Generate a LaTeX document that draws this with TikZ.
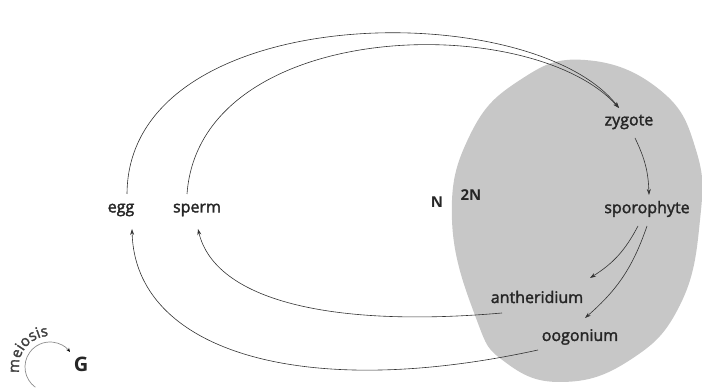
\documentclass[tikz,border=0pt]{standalone}
\usepackage{fontspec}
\setmainfont{Open Sans}
\newfontfamily\lblfont{Open Sans}[FakeBold=2]
\usetikzlibrary{arrows.meta,decorations.text}
\begin{document}
\begin{tikzpicture}[x=1pt,y=1pt,
  lbl/.style={font=\lblfont\fontsize{16}{16}\selectfont, inner sep=1pt, text=black!85},
  bl/.style={font=\fontsize{15}{15}\selectfont\bfseries, inner sep=1pt, text=black!85},
  arr/.style={draw=black!80, line width=0.6pt, -{Stealth[length=6pt,width=4pt]}}]
\useasboundingbox (0,0) rectangle (702,390);
% diploid region
\fill[black!22] plot[smooth cycle, tension=0.75] coordinates
  {(585,330) (660,300) (696,240) (700,170) (680,85) (630,30) (562,8) (505,28) (476,72) (452,170) (470,255) (520,310)};
% nodes
\node[lbl] (zyg) at (629,268) {zygote};
\node[lbl] (spo) at (647,181) {sporophyte};
\node[lbl] (ant) at (537,93) {antheridium};
\node[lbl] (oog) at (580,53) {oogonium};
\node[lbl] (egg) at (121,180) {egg};
\node[lbl] (spe) at (197,180) {sperm};
\node[bl] (n) at (437,188) {N};
\node[bl] (n2) at (471,195) {2N};
\node[font=\fontsize{20}{20}\selectfont\bfseries, text=black!85, inner sep=1pt] (g) at (81,26) {G};
% connectors
\draw[arr] ([shift={(6,16)}]egg.center) .. controls (128,390) and (530,395) .. ([shift={(-10,14)}]zyg.center);
\draw[arr] ([shift={(-10,16)}]spe.center) .. controls (200,372) and (530,380) .. ([shift={(-10,14)}]zyg.center);
\draw[arr] ([shift={(6,-16)}]zyg.center) to[bend left=12] ([shift={(2,14)}]spo.center);
\draw[arr] ([shift={(-9,-17)}]spo.center) to[bend left=15] ([shift={(53,19)}]ant.center);
\draw[arr] ([shift={(0,-17)}]spo.center) to[bend left=15] ([shift={(5,19)}]oog.center);
\draw[arr] ([shift={(-35,-16)}]ant.center) .. controls (330,62) and (215,90) .. ([shift={(1,-19)}]spe.center);
\draw[arr] ([shift={(-42,-13)}]oog.center) .. controls (300,-12) and (135,40) .. ([shift={(11,-19)}]egg.center);
% meiosis symbol
\coordinate (mc) at (50,23);
\draw[black!45, line width=0.7pt, -{Stealth[length=4pt,width=3.5pt,black]}] (mc) ++(234:25) arc[start angle=234, end angle=37, radius=25] coordinate (mend);
\path[decorate, decoration={text along path, text align=center,
  text={|\lblfont\fontsize{15}{15}\selectfont\color{black!75}|meiosis}}]
  (mc) ++(206:31) arc[start angle=206, end angle=78, radius=31];
\end{tikzpicture}
\end{document}
